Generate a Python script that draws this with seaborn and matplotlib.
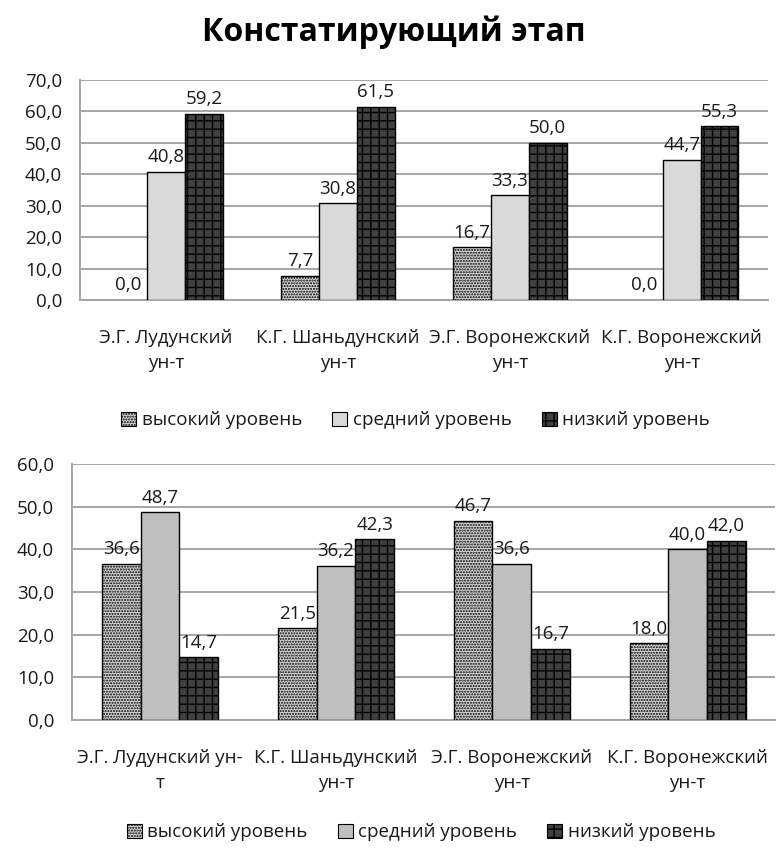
import pandas as pd
import seaborn as sns
import matplotlib.pyplot as plt
import matplotlib.ticker as ticker
from matplotlib.patches import Patch

# Данные
niveles = ['высокий уровень', 'средний уровень', 'низкий уровень']

cat_top = ['Э.Г. Лудунский\nун-т', 'К.Г. Шаньдунский\nун-т',
           'Э.Г. Воронежский\nун-т', 'К.Г. Воронежский\nун-т']
alto_top = [0.0, 7.7, 16.7, 0.0]
medio_top = [40.8, 30.8, 33.3, 44.7]
bajo_top = [59.2, 61.5, 50.0, 55.3]

cat_bot = ['Э.Г. Лудунский ун-\nт', 'К.Г. Шаньдунский\nун-т',
           'Э.Г. Воронежский\nун-т', 'К.Г. Воронежский\nун-т']
alto_bot = [36.6, 21.5, 46.7, 18.0]
medio_bot = [48.7, 36.2, 36.6, 40.0]
bajo_bot = [14.7, 42.3, 16.7, 42.0]

titulo = 'Констатирующий этап'

sns.set_style('white')
plt.rcParams['font.family'] = ['Open Sans', 'DejaVu Sans']
plt.rcParams['hatch.linewidth'] = 1.0

TXT = '#1a1a1a'
GRID = '#a6a6a6'
FS = 13.5


def coma(v, pos=None):
    return f"{v:.1f}".replace('.', ',')


def dibujar(ax, cats, alto, medio, bajo, ymax, color_medio):
    df = pd.DataFrame({
        'cat': cats * 3,
        'nivel': [niveles[0]] * 4 + [niveles[1]] * 4 + [niveles[2]] * 4,
        'valor': alto + medio + bajo,
    })
    estilos = {
        niveles[0]: ('#d4d4d4', '......'),
        niveles[1]: (color_medio, ''),
        niveles[2]: ('#404040', '++'),
    }
    sns.barplot(data=df, x='cat', y='valor', hue='nivel', hue_order=niveles,
                palette={k: v[0] for k, v in estilos.items()},
                width=0.66, edgecolor='black', linewidth=1.0,
                saturation=1, legend=False, ax=ax, zorder=3)
    for cont, nivel in zip(ax.containers, niveles):
        fc, hatch = estilos[nivel]
        for bar in cont:
            bar.set_facecolor(fc)
            bar.set_hatch(hatch)
            if bar.get_height() == 0:
                bar.set_linewidth(0)
        ax.bar_label(cont, labels=[coma(b.get_height()) for b in cont],
                     padding=4, fontsize=FS, color=TXT)

    ax.set_ylim(0, ymax)
    ax.set_xlim(-0.5, 3.5)
    ax.yaxis.set_major_locator(ticker.MultipleLocator(10))
    ax.yaxis.set_major_formatter(ticker.FuncFormatter(coma))
    ax.grid(axis='y', color=GRID, linewidth=1.4, zorder=0)
    ax.set_axisbelow(True)
    for s in ['top', 'right']:
        ax.spines[s].set_visible(False)
    for s in ['left', 'bottom']:
        ax.spines[s].set_color(GRID)
        ax.spines[s].set_linewidth(1.4)
    ax.set_xlabel('')
    ax.set_ylabel('')
    ax.tick_params(axis='y', length=0, pad=13, labelsize=FS, labelcolor=TXT)
    ax.tick_params(axis='x', length=0, pad=21, labelsize=FS, labelcolor=TXT)
    for t in ax.get_xticklabels():
        t.set_linespacing(1.5)
    return estilos


fig = plt.figure(figsize=(7.77, 8.51), dpi=100)
ax1 = fig.add_axes([0.103, 0.6475, 0.885, 0.2585])
ax2 = fig.add_axes([0.093, 0.154, 0.905, 0.3008])

est1 = dibujar(ax1, cat_top, alto_top, medio_top, bajo_top, 70, '#d9d9d9')
est2 = dibujar(ax2, cat_bot, alto_bot, medio_bot, bajo_bot, 60, '#bfbfbf')

fig.text(0.507, 0.962, titulo, ha='center', va='center',
         fontsize=23, fontweight='bold', color='black')

for est, y, x in [(est1, 0.506, 0.535), (est2, 0.022, 0.542)]:
    handles = [Patch(facecolor=est[n][0], hatch=est[n][1], edgecolor='black',
                     linewidth=0.8, label=n) for n in niveles]
    fig.legend(handles=handles, loc='center', bbox_to_anchor=(x, y), ncol=3,
               frameon=False, fontsize=FS, handlelength=0.8, handleheight=0.8,
               handletextpad=0.3, columnspacing=1.6, labelcolor=TXT)

fig.savefig('out.png', dpi=100)
